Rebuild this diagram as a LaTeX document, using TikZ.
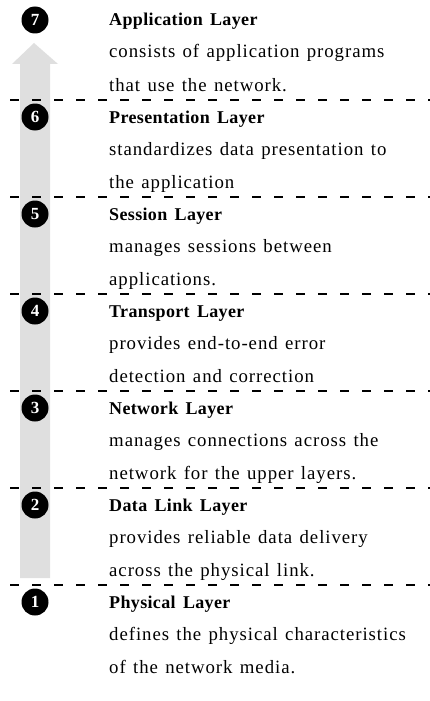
\documentclass[tikz,border=0pt]{standalone}
\usepackage{fontspec}
\setmainfont{Liberation Serif}
\newfontfamily\bodyfont[LetterSpace=5,WordSpace=1.3]{Liberation Serif}
\newfontfamily\headfont[LetterSpace=2,WordSpace=1.5]{Liberation Serif Bold}
\begin{document}
\begin{tikzpicture}[x=1pt,y=-1pt]
\tikzset{
  sepline/.style={line width=1.1pt, dash pattern=on 9pt off 13pt, dash phase=0pt},
  num/.style={circle, fill=black, minimum size=27pt, inner sep=0pt, text=white,
              font=\bfseries\fontsize{17}{17}\selectfont},
  head/.style={anchor=base west, inner sep=0pt, font=\headfont\fontsize{18}{18}\selectfont},
  body/.style={anchor=base west, inner sep=0pt, font=\bodyfont\fontsize{18.8}{18.8}\selectfont},
  shade/.style={fill=gray!25, draw=none}
}
\useasboundingbox (0,0) rectangle (430,701);
% shaded upward arrow
\fill[shade] (20,578) -- (20,64) -- (12,64) -- (34,43) -- (58,64) -- (50,64) -- (50,578) -- cycle;
% dashed separators
\foreach \k in {1,...,6}{
  \draw[sepline] (10,{97*\k+3}) -- (430,{97*\k+3});
}
% layers
\foreach \k/\n/\h/\a/\b in {
  0/7/{Application Layer}/{consists of application programs}/{that use the network.},
  1/6/{Presentation Layer}/{standardizes data presentation to}/{the application},
  2/5/{Session Layer}/{manages sessions between}/{applications.},
  3/4/{Transport Layer}/{provides end-to-end error}/{detection and correction},
  4/3/{Network Layer}/{manages connections across the}/{network for the upper layers.},
  5/2/{Data Link Layer}/{provides reliable data delivery}/{across the physical link.},
  6/1/{Physical Layer}/{defines the physical characteristics}/{of the network media.}}{
  \node[num] (c\n) at (35,{20+97*\k}) {\n};
  \node[head] (h\n) at (109,{26+97*\k}) {\h};
  \node[body] (a\n) at (109,{58+97*\k}) {\a};
  \node[body] (b\n) at (109,{91+97*\k}) {\b};
}
\end{tikzpicture}
\end{document}
